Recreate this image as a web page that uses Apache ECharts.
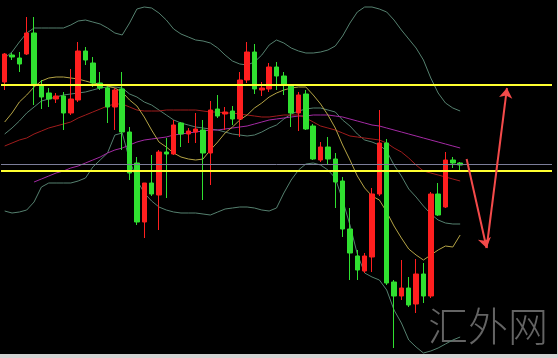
<!DOCTYPE html>
<html><head><meta charset="utf-8">
<script src="https://cdn.jsdelivr.net/npm/echarts@6/dist/echarts.min.js"></script>
<style>
html,body{margin:0;padding:0;background:#d4d4d4;width:558px;height:358px;overflow:hidden;}
#chart{position:absolute;left:0;top:0;width:557px;height:354px;background:#000;}
</style></head><body><div id="chart"></div>
<script>
// 75 bar slots; the last 12 are empty space used for the forecast arrows
const categories = Array.from({length: 75}, (_, i) => 'K' + (i + 1));

const opens = [278,305,302,306,327,275,267,261,264,247,
  260,309,297,277,272,253,271,228,197,138,
  177,165,208,206,237,226,228,230,207,251,
  246,249,241,280,308,270,271,293,284,275,
  247,266,234,200,213,201,179,131,104,89,
  103,166,217,78,64,72,56,86,64,166,
  153,200,197];
const closes = [306,303,296,327,275,263,261,264,247,261,
  309,300,277,272,253,270,228,187,138,177,
  166,208,206,235,226,229,231,207,250,244,
  248,241,280,308,271,272,293,284,276,247,
  265,231,201,213,201,178,131,107,90,104,
  166,217,77,64,72,55,86,64,166,145,
  200,197,195];
const lows = [270,300,288,305,255,251,253,257,230,245,
  258,295,273,270,237,230,210,180,135,122,
  164,130,162,205,213,217,217,160,175,242,
  230,235,223,277,266,264,268,270,265,233,
  229,230,200,198,195,152,123,80,80,87,
  88,164,75,12,60,53,47,57,62,144,
  152,192,189];
const highs = [307,307,308,343,343,280,272,267,268,291,
  318,313,303,288,275,272,288,233,203,177,
  205,210,222,240,238,232,247,240,259,265,
  253,254,288,318,316,278,297,298,288,276,
  268,270,236,218,223,207,183,152,110,107,
  172,250,221,80,100,83,101,97,168,177,
  208,203,198];

const bollUpper = [302,308,318,327,332,332,332,332,332,335,
  339,340,338,336,332,327,325,337,351,353,
  352,347,340,331,326,323,320,319,317,312,
  305,299,296,295,298,305,315,320,317,312,
  309,307,307,308,310,314,324,337,348,353,
  353,351,348,340,330,321,312,300,282,267,
  257,252,249];
const bollMid = [226,232,239,247,253,259,261,263,265,266,
  267,268,270,272,273,273,272,266,263,258,
  255,250,245,240,237,235,233,232,231,230,
  228,226,225,224,225,228,232,235,241,246,
  249,251,252,252,250,248,240,234,226,220,
  218,215,209,195,184,171,163,154,146,140,
  137,136,136];
const bollLower = [149,147,148,150,158,173,177,177,177,177,
  179,182,193,200,207,225,227,200,180,167,
  159,153,150,148,147,147,147,146,145,148,
  151,152,153,153,152,150,149,152,167,180,
  190,196,197,195,190,182,160,135,106,87,
  83,80,70,50,37,20,13,7,9,12,
  16,20,23];
const maFast = [238,247,258,265,273,279,282,283,283,282,
  281,279,277,276,274,272,268,260,254,243,
  230,218,213,207,203,201,200,201,210,218,
  227,233,240,245,252,257,263,267,270,272,
  273,273,265,256,245,232,215,200,184,172,
  164,160,148,134,122,111,105,100,105,110,
  114,113,125];
const maMid = [214,217,220,222,226,229,232,234,236,238,
  242,245,248,251,254,256,256,253,250,249,
  249,249,250,250,250,250,250,249,248,248,
  247,247,246,245,244,243,243,244,245,245,
  245,242,238,234,232,230,227,224,223,222,
  221,220,217,212,208,202,195,189,187,185,
  183,181,179];
const maSlow = ['-','-','-','-',178,181,184,187,189,192,
  194,197,200,203,207,210,212,215,218,220,
  221,222,223,225,226,227,228,229,230,230,
  231,232,233,234,236,238,240,241,242,243,
  244,244,245,245,245,244,243,241,239,237,
  235,234,232,230,228,226,224,222,220,218,
  216,214,212];

const resistance = 275;
const support = 189;
const lastPrice = 196;
// forecast path: [bar position, price]
const arrowPath = [[62.88, 201], [65.6, 112], [68.37, 272]];

const candles = opens.map((o, i) => [o, closes[i], lows[i], highs[i]]);

const chart = echarts.init(document.getElementById('chart'), null, {renderer: 'canvas'});
const lineS = (name, data, color) => ({
  name, type: 'line', data, showSymbol: false, symbol: 'none', silent: true,
  lineStyle: {color, width: 1}, z: 2, animation: false
});
chart.setOption({
  backgroundColor: '#000',
  animation: false,
  grid: {left: 1, width: 551, top: 0, height: 354, containLabel: false},
  xAxis: [
    {type: 'category', data: categories, show: false, boundaryGap: true},
    {type: 'value', min: -0.5, max: 74.5, show: false}
  ],
  yAxis: {type: 'value', min: 6, max: 360, show: false, splitLine: {show: false}},
  graphic: [{
    type: 'text', left: 428, top: 306, z: 1,
    style: {text: '汇外网', fill: '#646464', font: '300 40px "Noto Sans CJK SC"'}
  }],
  series: [
    lineS('upper', bollUpper, '#55806f'),
    lineS('mid', bollMid, '#55806f'),
    lineS('lower', bollLower, '#55806f'),
    lineS('maSlow', maSlow, '#a42aa4'),
    lineS('maMid', maMid, '#a01c1c'),
    lineS('maFast', maFast, '#b5a445'),
    {
      type: 'candlestick', data: candles, barWidth: 5, z: 3,
      itemStyle: {color: '#ff1f1f', color0: '#30e030', borderColor: '#ff1f1f', borderColor0: '#30e030', borderWidth: 1},
      markLine: {
        silent: true, symbol: 'none', label: {show: false}, animation: false,
        data: [
          {yAxis: lastPrice, lineStyle: {color: '#7c7e9a', width: 1, type: 'solid'}},
          {yAxis: resistance, lineStyle: {color: '#ffff30', width: 2, type: 'solid'}},
          {yAxis: support, lineStyle: {color: '#ffff30', width: 2, type: 'solid'}}
        ]
      }
    },
    {
      type: 'lines', coordinateSystem: 'cartesian2d', xAxisIndex: 1, yAxisIndex: 0,
      symbol: ['none', 'arrow'], symbolSize: 10, silent: true, z: 5,
      lineStyle: {color: '#f44a4a', width: 2, opacity: 1, curveness: 0},
      data: [
        {coords: [arrowPath[0], arrowPath[1]]},
        {coords: [arrowPath[1], arrowPath[2]]}
      ]
    }
  ]
});
</script></body></html>
